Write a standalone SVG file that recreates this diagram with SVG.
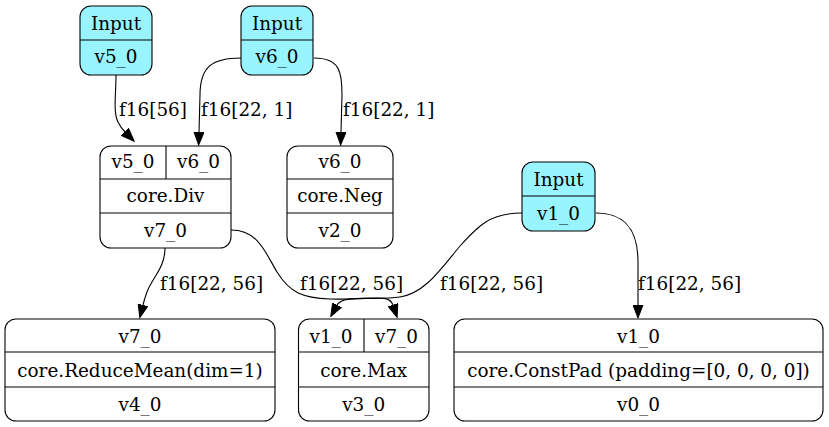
<svg xmlns="http://www.w3.org/2000/svg" width="829" height="427" viewBox="0 0 829 427">
<defs>
<marker id="arr" markerUnits="userSpaceOnUse" markerWidth="14" markerHeight="11" refX="0" refY="5" orient="auto" viewBox="0 0 14 10">
<path d="M0,0 L13,5 L0,10 z" fill="#000" stroke="#000" stroke-width="1"/>
</marker>
</defs>
<style>
text{font-family:"DejaVu Serif","Liberation Serif",serif;font-size:18.4px;fill:#000}
.c{text-anchor:middle}
.box{fill:#fff;stroke:#000;stroke-width:1.1}
.inp{fill:#98F5FF;stroke:#000;stroke-width:1.1}
.ln{stroke:#000;stroke-width:1.1;fill:none}
.e{fill:none;stroke:#000;stroke-width:1.1;marker-end:url(#arr)}
</style>
<rect width="829" height="427" fill="#fff"/>
<g id="connectors">
<path class="e" d="M116,75 C116,95 113,112 118,122 C120,126 122,129 125,132"/>
<path class="e" d="M241,58 C213,58 200,66 200,95 L199,132"/>
<path class="e" d="M314,58 C340,58 342,72 342,95 L341,132"/>
<path class="e" d="M165,248 C165,268 152,278 147,292 C145,297 144,301 143,305"/>
<path class="e" d="M231,230 C258,230 265,252 277,272 C290,293 303,298 330,299 C372,300 389,293 393,305"/>
<path class="e" d="M522,213 C490,213 478,226 460,246 C440,270 425,293 400,297 C375,301 343,294 337,305"/>
<path class="e" d="M596,213 C627,213 638,232 638,262 L638,305"/>
<text x="119" y="116">f16[56]</text>
<text x="201" y="116">f16[22, 1]</text>
<text x="343" y="116">f16[22, 1]</text>
<text x="160" y="290">f16[22, 56]</text>
<text x="300" y="290">f16[22, 56]</text>
<text x="440" y="290">f16[22, 56]</text>
<text x="638" y="290">f16[22, 56]</text>
</g>
<g id="v5_0">
<rect class="inp" x="80" y="6" width="72" height="69" rx="11"/>
<line class="ln" x1="80" y1="40" x2="152" y2="40"/>
<text class="c" x="116" y="30">Input</text>
<text class="c" x="116" y="63">v5_0</text>
</g>
<g id="v6_0">
<rect class="inp" x="241" y="6" width="72" height="69" rx="11"/>
<line class="ln" x1="241" y1="40" x2="313" y2="40"/>
<text class="c" x="277" y="30">Input</text>
<text class="c" x="277" y="63">v6_0</text>
</g>
<g id="v1_0">
<rect class="inp" x="522" y="162" width="73" height="69" rx="11"/>
<line class="ln" x1="522" y1="196" x2="595" y2="196"/>
<text class="c" x="558.5" y="186">Input</text>
<text class="c" x="558.5" y="220">v1_0</text>
</g>
<g id="div">
<rect class="box" x="100" y="146" width="131" height="102" rx="11"/>
<line class="ln" x1="100" y1="179" x2="231" y2="179"/>
<line class="ln" x1="100" y1="213" x2="231" y2="213"/>
<line class="ln" x1="166" y1="146" x2="166" y2="179"/>
<text class="c" x="133" y="168">v5_0</text>
<text class="c" x="198.5" y="168">v6_0</text>
<text class="c" x="165.5" y="202">core.Div</text>
<text class="c" x="165.5" y="237">v7_0</text>
</g>
<g id="neg">
<rect class="box" x="287" y="146" width="106" height="102" rx="11"/>
<line class="ln" x1="287" y1="179" x2="393" y2="179"/>
<line class="ln" x1="287" y1="213" x2="393" y2="213"/>
<text class="c" x="340" y="168">v6_0</text>
<text class="c" x="340" y="202">core.Neg</text>
<text class="c" x="340" y="237">v2_0</text>
</g>
<g id="reducemean">
<rect class="box" x="5" y="319" width="270" height="102" rx="11"/>
<line class="ln" x1="5" y1="352" x2="275" y2="352"/>
<line class="ln" x1="5" y1="387" x2="275" y2="387"/>
<text class="c" x="140" y="343">v7_0</text>
<text class="c" x="140" y="377">core.ReduceMean(dim=1)</text>
<text class="c" x="140" y="411">v4_0</text>
</g>
<g id="max">
<rect class="box" x="298.5" y="319" width="130.5" height="102" rx="11"/>
<line class="ln" x1="298.5" y1="352" x2="429" y2="352"/>
<line class="ln" x1="298.5" y1="387" x2="429" y2="387"/>
<line class="ln" x1="364" y1="319" x2="364" y2="352"/>
<text class="c" x="331" y="343">v1_0</text>
<text class="c" x="396.5" y="343">v7_0</text>
<text class="c" x="363.7" y="377">core.Max</text>
<text class="c" x="363.7" y="411">v3_0</text>
</g>
<g id="constpad">
<rect class="box" x="454" y="319" width="369" height="102" rx="11"/>
<line class="ln" x1="454" y1="352" x2="823" y2="352"/>
<line class="ln" x1="454" y1="387" x2="823" y2="387"/>
<text class="c" x="638.5" y="343">v1_0</text>
<text class="c" x="638.5" y="377">core.ConstPad (padding=[0, 0, 0, 0])</text>
<text class="c" x="638.5" y="411">v0_0</text>
</g>
</svg>
